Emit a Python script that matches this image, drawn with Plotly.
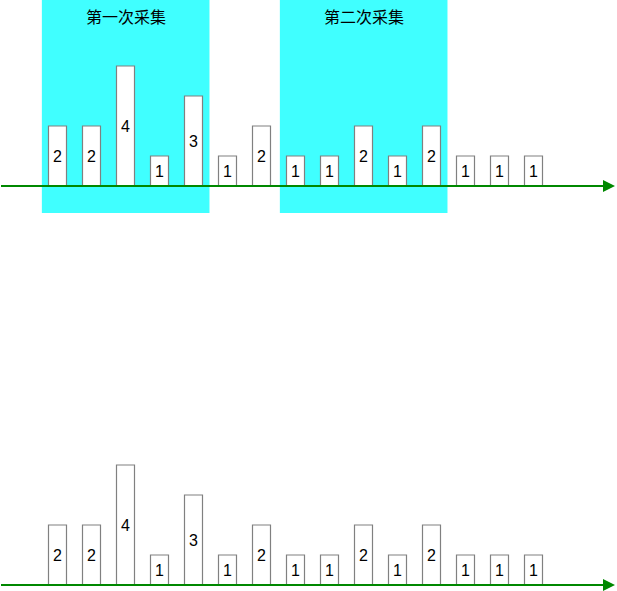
import plotly.graph_objects as go

# ---- data ----
values = [2, 2, 4, 1, 3, 1, 2, 1, 1, 2, 1, 2, 1, 1, 1]
positions = list(range(len(values)))
group_starts = [0, 7]
group_ends = [4, 11]
group_labels = ["第一次采集", "第二次采集"]

W, H = 617, 591
PITCH = 34.0          # px per x unit
CENTER0 = 57.5        # px of first bar centre
UNIT = 30.0           # px per y unit
BASE_TOP = 186.0      # px baseline of upper chart
BASE_BOT = 585.0      # px baseline of lower chart

x_range = [-CENTER0 / PITCH, (W - CENTER0) / PITCH]
y1_range = [-(H - BASE_TOP) / UNIT, BASE_TOP / UNIT]
y2_range = [-(H - BASE_BOT) / UNIT, BASE_BOT / UNIT]

x_line_start = x_range[0] + 1 / PITCH
x_line_end = x_range[0] + 606 / PITCH
GREEN = "#008800"

bar_style = dict(
    width=18 / PITCH,
    marker=dict(color="white", line=dict(color="#808080", width=1.2)),
    textposition="inside",
    insidetextanchor="middle",
    textangle=0,
    constraintext="none",
    textfont=dict(family="Liberation Sans, Arial, sans-serif", size=16, color="black"),
    hoverinfo="skip",
    showlegend=False,
    cliponaxis=False,
)

fig = go.Figure()
for yr in ["y", "y2"]:
    fig.add_trace(go.Scatter(x=[x_line_start, x_line_end], y=[0, 0], yaxis=yr,
                             mode="lines", line=dict(color=GREEN, width=2),
                             hoverinfo="skip", showlegend=False, cliponaxis=False))
fig.add_trace(go.Bar(x=positions, y=values, text=[str(v) for v in values],
                     yaxis="y", **bar_style))
fig.add_trace(go.Bar(x=positions, y=values, text=[str(v) for v in values],
                     yaxis="y2", **bar_style))

shapes = []
annotations = []
for s, e, lab in zip(group_starts, group_ends, group_labels):
    shapes.append(dict(type="rect", xref="x", yref="y",
                       x0=s - 0.46, x1=e + 0.47,
                       y0=-27 / UNIT, y1=y1_range[1],
                       fillcolor="#40FFFF", line=dict(width=0), layer="below"))
    annotations.append(dict(x=(s + e) / 2 + 0.005, y=1 - 16 / H, xref="x", yref="paper",
                            text=lab, showarrow=False, xanchor="center", yanchor="middle",
                            font=dict(family="Noto Sans CJK SC", size=16, color="black")))

for yr in ["y", "y2"]:
    annotations.append(dict(x=615 / W, y=0, xref="paper", yref=yr,
                            ax=-16, ay=0, axref="pixel", ayref="pixel",
                            showarrow=True, arrowhead=2, arrowsize=1.2, arrowwidth=2,
                            arrowcolor=GREEN, text=""))

fig.update_layout(
    width=W, height=H,
    margin=dict(l=0, r=0, t=0, b=0),
    paper_bgcolor="white", plot_bgcolor="white",
    barmode="overlay",
    xaxis=dict(range=x_range, visible=False, fixedrange=True),
    yaxis=dict(range=y1_range, visible=False, fixedrange=True),
    yaxis2=dict(range=y2_range, visible=False, overlaying="y", fixedrange=True),
    shapes=shapes,
    annotations=annotations,
)

fig.write_html(
    "out.html",
    config={"displayModeBar": False},
    post_script="document.body.style.margin='0';document.body.style.overflow='hidden';",
)
